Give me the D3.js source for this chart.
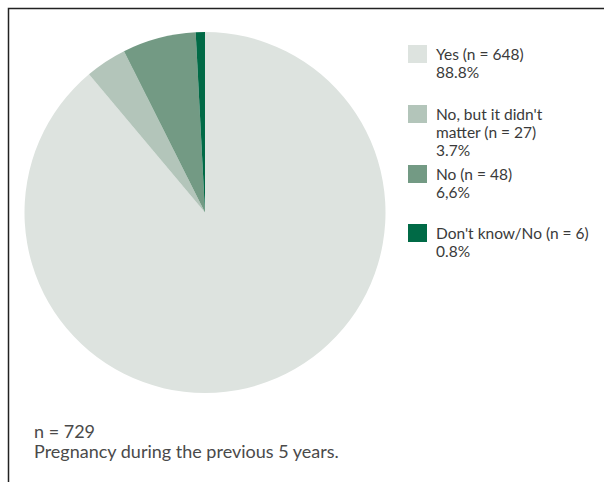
<!DOCTYPE html>
<html lang="en">
<head>
<meta charset="UTF-8">
<title>Pregnancy pie</title>
<style>
  body { margin: 0; background: #fff; }
  svg { display: block; font-family: Lato, 'Open Sans', sans-serif; }
</style>
</head>
<body>
<svg id="chart" width="604" height="482"></svg>
<script src="https://d3js.org/d3.v7.min.js"></script>
<script>
// data
const categories = ["Yes", "No, but it didn't matter", "No", "Don't know/No"];
const counts = [648, 27, 48, 6];
const legendLines = [
  ["Yes (n = 648)", "88.8%"],
  ["No, but it didn't", "matter (n = 27)", "3.7%"],
  ["No (n = 48)", "6,6%"],
  ["Don't know/No (n = 6)", "0.8%"]
];
const colors = ["#dde3df", "#b3c5ba", "#739a84", "#006a46"];
const noteLines = ["n = 729", "Pregnancy during the previous 5 years."];

const svg = d3.select('#chart');

// frame: top and left edges only
svg.append('path')
  .attr('d', 'M8.5,482 V8.5 H604')
  .attr('fill', 'none')
  .attr('stroke', '#222')
  .attr('stroke-width', 1.5);

const cx = 205, cy = 212.5, r = 180.5;
const pie = d3.pie().sort(null).value(d => d)(counts);
const arc = d3.arc().innerRadius(0).outerRadius(r);

const color = d3.scaleOrdinal().domain(categories).range(colors);

svg.append('g')
  .attr('transform', `translate(${cx},${cy})`)
  .selectAll('path')
  .data(pie)
  .join('path')
  .attr('d', arc)
  .attr('fill', (d, i) => color(categories[i]));

// legend
const legendY = [45, 105, 165, 224];
const lg = svg.append('g');
categories.forEach((c, i) => {
  const g = lg.append('g').attr('transform', `translate(408,${legendY[i]})`);
  g.append('rect').attr('width', 19).attr('height', 18).attr('fill', color(c));
  legendLines[i].forEach((t, j) => {
    g.append('text')
      .attr('x', 28)
      .attr('y', 15 + j * 18)
      .attr('font-size', 15.5)
      .attr('fill', '#3a3a3a')
      .text(t);
  });
});

// note below
noteLines.forEach((t, j) => {
  svg.append('text')
    .attr('x', 34)
    .attr('y', 438 + j * 20)
    .attr('font-size', 18)
    .attr('fill', '#4a4a4a')
    .text(t);
});
</script>
</body>
</html>
